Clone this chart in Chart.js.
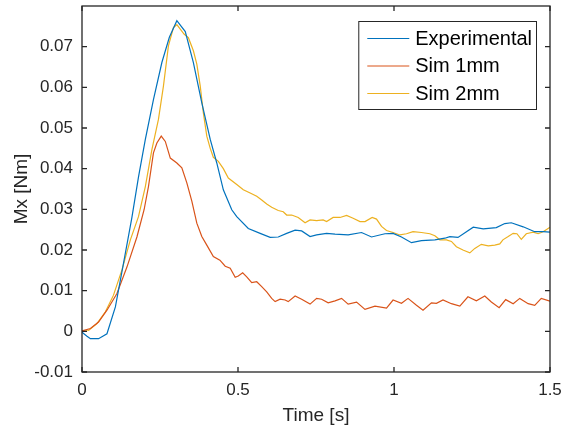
<!DOCTYPE html>
<html>
<head>
<meta charset="utf-8">
<script src="https://cdn.jsdelivr.net/npm/chart.js@4/dist/chart.umd.min.js"></script>
<style>
  html, body { margin: 0; padding: 0; background: #fff; }
  #wrap { width: 568px; height: 430px; }
</style>
</head>
<body>
<div id="wrap"><canvas id="c" width="568" height="430"></canvas></div>
<script>
// Moment Mx over time: measured response and two simulations
const seriesNames = ['Experimental', 'Sim 1mm', 'Sim 2mm'];
const seriesColors = ['#0072BD', '#D95319', '#EDB120'];

const expTime = [0, 0.016, 0.027, 0.053, 0.080, 0.107, 0.133, 0.160, 0.181, 0.203, 0.229, 0.256, 0.280, 0.304, 0.331, 0.357, 0.384, 0.411, 0.432, 0.453, 0.480, 0.496, 0.533, 0.571, 0.603, 0.629, 0.656, 0.683, 0.704, 0.731, 0.752, 0.784, 0.811, 0.853, 0.896, 0.928, 0.971, 0.997, 1.024, 1.056, 1.088, 1.131, 1.163, 1.179, 1.205, 1.254, 1.286, 1.328, 1.355, 1.376, 1.414, 1.451, 1.478, 1.5];
const expMx = [-0.0002, -0.0012, -0.0018, -0.0018, -0.0006, 0.0060, 0.0167, 0.0280, 0.0379, 0.0472, 0.0570, 0.0661, 0.0723, 0.0764, 0.0737, 0.0661, 0.0562, 0.0472, 0.0414, 0.0348, 0.0299, 0.0282, 0.0253, 0.0241, 0.0231, 0.0232, 0.0241, 0.0249, 0.0247, 0.0233, 0.0237, 0.0241, 0.0239, 0.0237, 0.0243, 0.0232, 0.0240, 0.0241, 0.0232, 0.0218, 0.0223, 0.0225, 0.0229, 0.0233, 0.0231, 0.0256, 0.0252, 0.0255, 0.0265, 0.0267, 0.0257, 0.0245, 0.0245, 0.0244];

const sim1Time = [0, 0.027, 0.053, 0.080, 0.112, 0.144, 0.176, 0.199, 0.213, 0.229, 0.240, 0.254, 0.267, 0.283, 0.304, 0.320, 0.336, 0.352, 0.368, 0.384, 0.400, 0.421, 0.442, 0.459, 0.475, 0.491, 0.501, 0.515, 0.528, 0.544, 0.560, 0.576, 0.592, 0.608, 0.619, 0.635, 0.651, 0.661, 0.683, 0.704, 0.731, 0.752, 0.768, 0.789, 0.811, 0.832, 0.853, 0.880, 0.907, 0.939, 0.976, 0.997, 1.024, 1.045, 1.072, 1.093, 1.120, 1.136, 1.157, 1.184, 1.211, 1.237, 1.264, 1.291, 1.312, 1.337, 1.358, 1.382, 1.403, 1.430, 1.451, 1.472, 1.5];
const sim1Mx = [0.0001, 0.0007, 0.0023, 0.0052, 0.0093, 0.0158, 0.0232, 0.0299, 0.0356, 0.0439, 0.0463, 0.0480, 0.0467, 0.0426, 0.0414, 0.0402, 0.0365, 0.0320, 0.0266, 0.0233, 0.0212, 0.0184, 0.0175, 0.0160, 0.0155, 0.0133, 0.0136, 0.0144, 0.0134, 0.0120, 0.0122, 0.0110, 0.0097, 0.0081, 0.0073, 0.0079, 0.0077, 0.0073, 0.0087, 0.0079, 0.0067, 0.0081, 0.0079, 0.0070, 0.0075, 0.0081, 0.0067, 0.0072, 0.0054, 0.0062, 0.0057, 0.0077, 0.0069, 0.0081, 0.0064, 0.0052, 0.0070, 0.0069, 0.0077, 0.0068, 0.0062, 0.0085, 0.0075, 0.0087, 0.0072, 0.0058, 0.0078, 0.0068, 0.0081, 0.0068, 0.0064, 0.0081, 0.0074];

const sim2Time = [0, 0.021, 0.048, 0.075, 0.101, 0.128, 0.155, 0.181, 0.203, 0.224, 0.245, 0.261, 0.277, 0.293, 0.304, 0.315, 0.327, 0.341, 0.357, 0.368, 0.379, 0.389, 0.400, 0.411, 0.421, 0.437, 0.453, 0.469, 0.496, 0.517, 0.539, 0.560, 0.576, 0.592, 0.608, 0.629, 0.645, 0.656, 0.672, 0.693, 0.715, 0.731, 0.752, 0.773, 0.784, 0.805, 0.827, 0.848, 0.869, 0.891, 0.907, 0.930, 0.944, 0.960, 0.976, 0.997, 1.019, 1.040, 1.061, 1.088, 1.115, 1.131, 1.147, 1.168, 1.184, 1.200, 1.221, 1.243, 1.259, 1.280, 1.302, 1.323, 1.339, 1.349, 1.366, 1.382, 1.394, 1.408, 1.424, 1.446, 1.462, 1.478, 1.5];
const sim2Mx = [0.0001, 0.0002, 0.0019, 0.0048, 0.0089, 0.0151, 0.0225, 0.0282, 0.0356, 0.0447, 0.0521, 0.0603, 0.0702, 0.0747, 0.0754, 0.0743, 0.0731, 0.0722, 0.0690, 0.0657, 0.0603, 0.0537, 0.0480, 0.0450, 0.0428, 0.0418, 0.0400, 0.0377, 0.0361, 0.0348, 0.0340, 0.0332, 0.0323, 0.0313, 0.0305, 0.0297, 0.0294, 0.0286, 0.0286, 0.0280, 0.0267, 0.0274, 0.0272, 0.0274, 0.0270, 0.0280, 0.0280, 0.0285, 0.0278, 0.0270, 0.0270, 0.0280, 0.0276, 0.0258, 0.0248, 0.0243, 0.0237, 0.0240, 0.0245, 0.0243, 0.0240, 0.0235, 0.0225, 0.0225, 0.0221, 0.0208, 0.0200, 0.0193, 0.0204, 0.0214, 0.0210, 0.0212, 0.0215, 0.0225, 0.0233, 0.0241, 0.0240, 0.0226, 0.0240, 0.0244, 0.0240, 0.0245, 0.0256];

const xTickValues = [0, 0.5, 1, 1.5];
const yTickValues = [-0.01, 0, 0.01, 0.02, 0.03, 0.04, 0.05, 0.06, 0.07];
const xRange = [0, 1.5];
const yRange = [-0.01, 0.08];

const FONT = '"Liberation Sans", Arial, Helvetica, sans-serif';
const AXIS_COLOR = '#262626';

function toPoints(ts, vs) { return ts.map((t, i) => ({ x: t, y: vs[i] })); }
function fmt(v) { return Math.abs(v) < 1e-9 ? '0' : String(+v.toFixed(2)); }

const seriesData = [toPoints(expTime, expMx), toPoints(sim1Time, sim1Mx), toPoints(sim2Time, sim2Mx)];

// Box around the plot, inward ticks on all four sides, and the legend in the upper right
const framePlugin = {
  id: 'frame',
  afterDatasetsDraw(chart) {
    const { ctx, chartArea: a, scales } = chart;
    const tickLen = 5;
    ctx.save();
    ctx.strokeStyle = AXIS_COLOR;
    ctx.lineWidth = 1.3;
    ctx.strokeRect(a.left, a.top, a.right - a.left, a.bottom - a.top);
    ctx.beginPath();
    scales.x.ticks.forEach(t => {
      const px = scales.x.getPixelForValue(t.value);
      ctx.moveTo(px, a.bottom); ctx.lineTo(px, a.bottom - tickLen);
      ctx.moveTo(px, a.top); ctx.lineTo(px, a.top + tickLen);
    });
    scales.y.ticks.forEach(t => {
      const py = scales.y.getPixelForValue(t.value);
      ctx.moveTo(a.left, py); ctx.lineTo(a.left + tickLen, py);
      ctx.moveTo(a.right, py); ctx.lineTo(a.right - tickLen, py);
    });
    ctx.stroke();

    // legend
    const fs = 20;
    ctx.font = fs + 'px ' + FONT;
    const labels = chart.data.datasets.map(d => d.label);
    const textW = Math.max(...labels.map(l => ctx.measureText(l).width));
    const lineLen = 42, padL = 9, gap = 6, padR = 4, rowH = 27.5;
    const boxW = padL + lineLen + gap + textW + padR;
    const boxH = 88;
    const bx = a.right - 14 - boxW;
    const by = a.top + 15;
    ctx.fillStyle = '#ffffff';
    ctx.fillRect(bx, by, boxW, boxH);
    ctx.lineWidth = 1;
    ctx.strokeStyle = AXIS_COLOR;
    ctx.strokeRect(bx + 0.5, by + 0.5, boxW, boxH);
    ctx.textBaseline = 'middle';
    ctx.textAlign = 'left';
    chart.data.datasets.forEach((d, i) => {
      const cy = by + 17 + i * rowH;
      ctx.strokeStyle = d.borderColor;
      ctx.lineWidth = 1;
      ctx.beginPath();
      ctx.moveTo(bx + padL, cy + 0.5);
      ctx.lineTo(bx + padL + lineLen, cy + 0.5);
      ctx.stroke();
      ctx.fillStyle = '#000000';
      ctx.fillText(d.label, bx + padL + lineLen + gap, cy + 1);
    });
    ctx.restore();
  }
};

new Chart(document.getElementById('c'), {
  type: 'line',
  data: {
    datasets: seriesNames.map((name, i) => ({
      label: name,
      data: seriesData[i],
      borderColor: seriesColors[i],
      backgroundColor: seriesColors[i],
      borderWidth: 1.2,
      pointRadius: 0,
      tension: 0,
      fill: false
    }))
  },
  options: {
    responsive: false,
    animation: false,
    devicePixelRatio: 1,
    layout: { padding: { left: 0, right: 18, top: 6, bottom: 0 } },
    plugins: { legend: { display: false }, tooltip: { enabled: false } },
    scales: {
      x: {
        type: 'linear',
        min: xRange[0], max: xRange[1],
        afterBuildTicks: s => { s.ticks = xTickValues.map(v => ({ value: v })); },
        afterFit: s => { s.height = 58; s.paddingLeft = 0; s.paddingRight = 0; },
        grid: { display: false, drawTicks: false },
        border: { display: false },
        ticks: { padding: 8, maxRotation: 0, color: AXIS_COLOR, font: { family: FONT, size: 17 }, callback: v => fmt(v) },
        title: { display: true, text: 'Time [s]', color: AXIS_COLOR, font: { family: FONT, size: 19 }, padding: { top: 0, bottom: 3 } }
      },
      y: {
        type: 'linear',
        min: yRange[0], max: yRange[1],
        afterBuildTicks: s => { s.ticks = yTickValues.map(v => ({ value: v })); },
        afterFit: s => { s.width = 82; s.paddingTop = 0; s.paddingBottom = 0; },
        grid: { display: false, drawTicks: false },
        border: { display: false },
        ticks: { padding: 9, color: AXIS_COLOR, font: { family: FONT, size: 17 }, callback: v => fmt(v) },
        title: { display: true, text: 'Mx [Nm]', color: AXIS_COLOR, font: { family: FONT, size: 19 }, padding: { top: 10, bottom: 0 } }
      }
    }
  },
  plugins: [framePlugin]
});
</script>
</body>
</html>
